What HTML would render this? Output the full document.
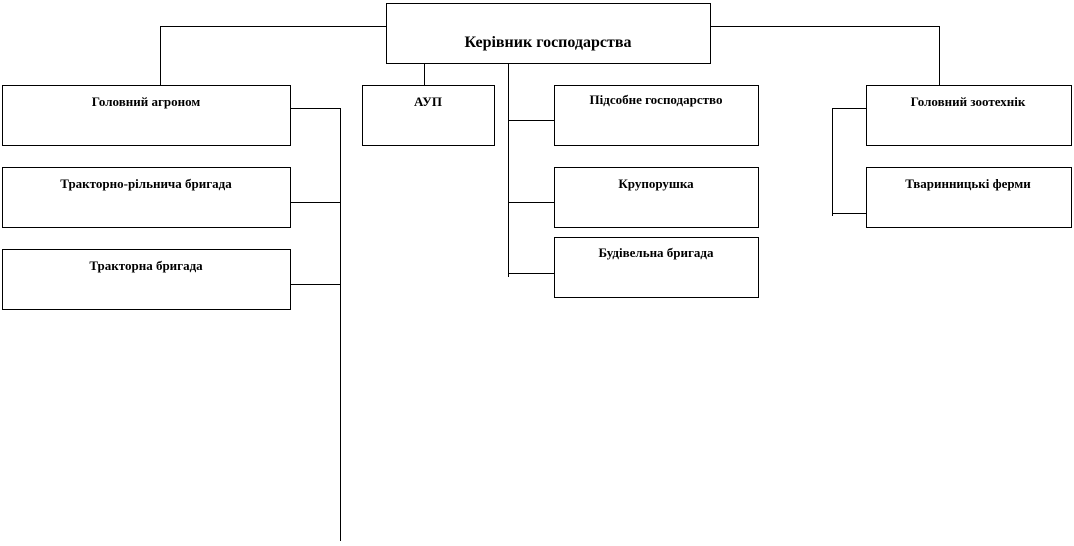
<!DOCTYPE html>
<html><head><meta charset="utf-8"><style>
body{margin:0;background:#fff;width:1074px;height:541px;overflow:hidden}
svg text{font-family:"Liberation Serif",serif;font-weight:bold;fill:#000}
</style></head><body>
<svg width="1074" height="541" xmlns="http://www.w3.org/2000/svg">
<g fill="none" stroke="#000" stroke-width="1">
<rect x="386.5" y="3.5" width="324" height="60"/>
<rect x="2.5" y="85.5" width="288" height="60"/>
<rect x="2.5" y="167.5" width="288" height="60"/>
<rect x="2.5" y="249.5" width="288" height="60"/>
<rect x="362.5" y="85.5" width="132" height="60"/>
<rect x="554.5" y="85.5" width="204" height="60"/>
<rect x="554.5" y="167.5" width="204" height="60"/>
<rect x="554.5" y="237.5" width="204" height="60"/>
<rect x="866.5" y="85.5" width="205" height="60"/>
<rect x="866.5" y="167.5" width="205" height="60"/>
<path d="M386 26.5H160.5V85"/>
<path d="M710 26.5H939.5V85"/>
<path d="M290 108.5H340.5V541M290 202.5H340M290 284.5H340"/>
<path d="M424.5 63V85"/>
<path d="M508.5 63V277M508 120.5H554M508 202.5H554M508 273.5H554"/>
<path d="M866 108.5H832.5V216M832 213.5H866"/>
</g>
<text x="548" y="47" font-size="16" text-anchor="middle">Керівник господарства</text>
<g font-size="13" text-anchor="middle">
<text x="146" y="106">Головний агроном</text>
<text x="146" y="188">Тракторно-рільнича бригада</text>
<text x="146" y="270">Тракторна бригада</text>
<text x="428" y="106">АУП</text>
<text x="656" y="104">Підсобне господарство</text>
<text x="656" y="188">Крупорушка</text>
<text x="656" y="257">Будівельна бригада</text>
<text x="968" y="106">Головний зоотехнік</text>
<text x="968" y="188">Тваринницькі ферми</text>
</g>
</svg>
</body></html>
